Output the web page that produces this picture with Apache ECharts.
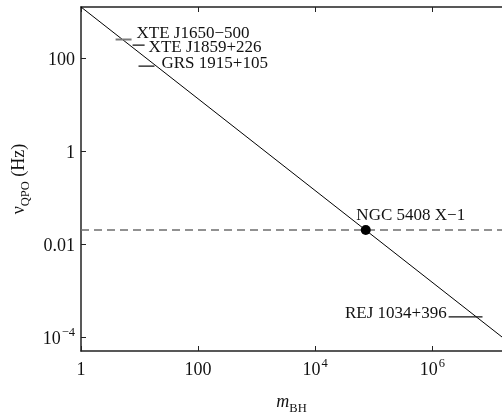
<!DOCTYPE html>
<html>
<head>
<meta charset="utf-8">
<script src="https://cdn.jsdelivr.net/npm/echarts@6/dist/echarts.min.js"></script>
<style>
html,body{margin:0;padding:0;background:#fff;}
#chart{width:502px;height:413px;}
</style>
</head>
<body>
<div id="chart"></div>
<script>
// ---- data ----
const xRange = [1, 1.55e7];
const yRange = [5e-5, 1250];
const xTickLabels = ['1', '100', '10^4', '10^6'];
const xTickValues = [1, 100, 1e4, 1e6];
const yTickLabels = ['10^−4', '0.01', '1', '100'];
const yTickValues = [1e-4, 0.01, 1, 100];

// scaling relation line (m_BH, nu_QPO)
const relationMass = [1, 1.55e7];
const relationNu = [1250, 1.0e-4];

// NGC 5408 X-1
const ngcName = 'NGC 5408 X−1';
const ngcMass = 7.3e4;
const ngcNu = 0.02;

// sources with mass ranges
const srcNames = ['XTE J1650−500', 'XTE J1859+226', 'GRS 1915+105', 'REJ 1034+396'];
const srcMassLow = [3.9, 7.6, 9.6, 1.9e6];
const srcMassHigh = [7.3, 12.2, 18, 7.2e6];
const srcNu = [250, 190, 67, 2.7e-4];

// ---- styles ----
const FONT = 'Liberation Serif';
const srcStyle = [
  {color: '#7a7a7a', width: 2, side: 'right', dist: 5, dy: -6},
  {color: '#111', width: 1.3, side: 'right', dist: 4, dy: 2.5},
  {color: '#111', width: 1.3, side: 'right', dist: 7, dy: -3},
  {color: '#111', width: 1.3, side: 'left', dist: 2, dy: -3.5}
];

function tickFormatter(values, labels) {
  return function (v) {
    for (let i = 0; i < values.length; i++) {
      if (Math.abs(Math.log10(v) - Math.log10(values[i])) < 1e-6) {
        const t = labels[i];
        if (t.indexOf('^') >= 0) {
          const p = t.split('^');
          return '{n|' + p[0] + '}{s|' + p[1] + '}';
        }
        return '{n|' + t + '}';
      }
    }
    return '';
  };
}
const tickRich = {
  n: {fontFamily: FONT, fontSize: 18, color: '#111', lineHeight: 22, verticalAlign: 'bottom'},
  s: {fontFamily: FONT, fontSize: 12.5, color: '#111', lineHeight: 22, verticalAlign: 'top', padding: [0, 0, 0, 1]}
};

const series = [];
series.push({
  type: 'line', name: 'relation',
  data: relationMass.map((m, i) => [m, relationNu[i]]),
  showSymbol: false, symbol: 'none',
  lineStyle: {color: '#000', width: 1},
  silent: true, animation: false, z: 3
});
series.push({
  type: 'line', name: 'ngcLevel',
  data: [[xRange[0], ngcNu], [xRange[1], ngcNu]],
  showSymbol: false, symbol: 'none',
  lineStyle: {color: '#6e6e6e', width: 1.5, type: [8, 5]},
  silent: true, animation: false, z: 2
});
series.push({
  type: 'scatter', name: 'ngc',
  data: [[ngcMass, ngcNu]],
  symbol: 'circle', symbolSize: 10,
  itemStyle: {color: '#000', opacity: 1},
  label: {show: true, formatter: ngcName, position: 'top', distance: 1, offset: [45, 0],
          fontFamily: FONT, fontSize: 17, color: '#111', opacity: 1},
  silent: true, animation: false, z: 5
});
srcNames.forEach((name, i) => {
  const st = srcStyle[i];
  const lab = {show: true, formatter: name, position: st.side, distance: st.dist, offset: [0, st.dy],
               fontFamily: FONT, fontSize: 17, color: '#111'};
  series.push({
    type: 'line', name: name,
    data: [
      {value: [srcMassLow[i], srcNu[i]], label: st.side === 'left' ? lab : {show: false}},
      {value: [srcMassHigh[i], srcNu[i]], label: st.side === 'right' ? lab : {show: false}}
    ],
    showSymbol: true, symbol: 'circle', symbolSize: 0,
    itemStyle: {color: st.color},
    lineStyle: {color: st.color, width: st.width},
    silent: true, animation: false, z: 4
  });
});

const chart = echarts.init(document.getElementById('chart'), null, {renderer: 'canvas'});
chart.setOption({
  animation: false,
  backgroundColor: '#fff',
  grid: {left: 81, right: 0, top: 7, bottom: 62, containLabel: false, outerBoundsMode: 'none'},
  xAxis: [{
    type: 'log', logBase: 100, min: xRange[0], max: xRange[1],
    position: 'bottom',
    axisLine: {show: true, lineStyle: {color: '#222', width: 1.5}},
    axisTick: {show: true, inside: true, length: 5, lineStyle: {color: '#222', width: 1}},
    splitLine: {show: false},
    axisLabel: {formatter: tickFormatter(xTickValues, xTickLabels), rich: tickRich, margin: 6,
                showMinLabel: true, showMaxLabel: false},
    name: '{m|m}{b|BH}', nameLocation: 'middle', nameGap: 42,
    nameTextStyle: {rich: {
      m: {fontFamily: FONT, fontStyle: 'italic', fontSize: 18, color: '#111', lineHeight: 22, verticalAlign: 'top'},
      b: {fontFamily: FONT, fontSize: 12.5, color: '#111', lineHeight: 12, verticalAlign: 'bottom'}
    }}
  }, {
    type: 'log', logBase: 100, min: xRange[0], max: xRange[1],
    position: 'top',
    axisLine: {show: true, lineStyle: {color: '#222', width: 1.5}},
    axisTick: {show: true, inside: true, length: 5, lineStyle: {color: '#222', width: 1}},
    axisLabel: {show: false}, splitLine: {show: false}
  }],
  yAxis: [{
    type: 'log', logBase: 100, min: yRange[0], max: yRange[1],
    axisLine: {show: true, lineStyle: {color: '#222', width: 1.5}},
    axisTick: {show: true, inside: true, length: 5, lineStyle: {color: '#222', width: 1}},
    splitLine: {show: false},
    axisLabel: {formatter: tickFormatter(yTickValues, yTickLabels), rich: tickRich, margin: 6,
                showMinLabel: false, showMaxLabel: false},
    name: '{g|ν}{q|QPO}{g| (Hz)}', nameLocation: 'middle', nameGap: 48, nameRotate: 90,
    nameTextStyle: {rich: {
      g: {fontFamily: FONT, fontSize: 18, color: '#111', lineHeight: 22, verticalAlign: 'top'},
      q: {fontFamily: FONT, fontSize: 12.5, color: '#111', lineHeight: 12, verticalAlign: 'bottom'}
    }}
  }],
  series: series
});
</script>
</body>
</html>
